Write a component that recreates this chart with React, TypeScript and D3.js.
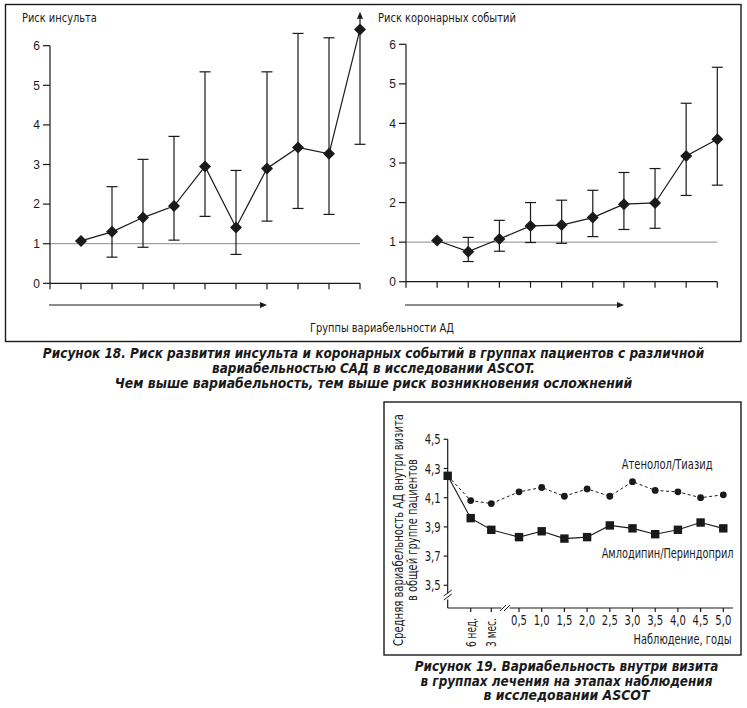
import { useEffect, useRef } from 'react';
import * as d3 from 'd3';

// Figure 18 — risk ratios by BP-variability group (1..10)
const GROUPS = [1, 2, 3, 4, 5, 6, 7, 8, 9, 10];
const STROKE_RISK = [1.07, 1.3, 1.66, 1.95, 2.95, 1.41, 2.9, 3.43, 3.27, 6.41];
const STROKE_LOW = [NaN, 0.66, 0.91, 1.09, 1.69, 0.73, 1.57, 1.89, 1.74, 3.51];
const STROKE_HIGH = [NaN, 2.44, 3.13, 3.71, 5.34, 2.85, 5.34, 6.31, 6.2, 6.78];
const CORONARY_RISK = [1.04, 0.76, 1.08, 1.41, 1.43, 1.62, 1.96, 1.99, 3.18, 3.6];
const CORONARY_LOW = [NaN, 0.51, 0.77, 0.99, 0.97, 1.14, 1.32, 1.35, 2.18, 2.44];
const CORONARY_HIGH = [NaN, 1.12, 1.55, 2.0, 2.06, 2.31, 2.76, 2.86, 4.51, 5.42];
const RISK_TICKS = [0, 1, 2, 3, 4, 5, 6];

// Figure 19 — within-visit variability by follow-up stage
const VISIT_YEARS = [0, 6 / 52, 0.25, 0.5, 1, 1.5, 2, 2.5, 3, 3.5, 4, 4.5, 5];
const VISIT_LABELS = ['', '6 нед.', '3 мес.', '0,5', '1,0', '1,5', '2,0', '2,5', '3,0', '3,5', '4,0', '4,5', '5,0'];
const ATENOLOL = [4.25, 4.08, 4.06, 4.14, 4.17, 4.11, 4.16, 4.11, 4.21, 4.15, 4.14, 4.1, 4.12];
const AMLODIPINE = [4.25, 3.96, 3.88, 3.83, 3.87, 3.82, 3.83, 3.91, 3.89, 3.85, 3.88, 3.93, 3.89];
const VAR_TICKS = [3.5, 3.7, 3.9, 4.1, 4.3, 4.5];

const W = 747;
const H = 708;
const INK = '#1a1a1a';
const SANS = '"Liberation Sans", Arial, sans-serif';
const NARROW = '"Liberation Sans Narrow", "DejaVu Sans Condensed", "Liberation Sans", sans-serif';

type G = d3.Selection<SVGGElement, unknown, null, undefined>;

type Panel = {
  axisX: number;
  right: number;
  top: number;
  bottom: number;
  title: string;
  titleLen: number;
  risk: number[];
  low: number[];
  high: number[];
  arrowEnd: number;
};

const PANELS: Panel[] = [
  {
    axisX: 50, right: 360, top: 45.7, bottom: 283.3,
    title: 'Риск инсульта', titleLen: 75,
    risk: STROKE_RISK, low: STROKE_LOW, high: STROKE_HIGH, arrowEnd: 267,
  },
  {
    axisX: 406, right: 717.3, top: 44.3, bottom: 281.7,
    title: 'Риск коронарных событий', titleLen: 138,
    risk: CORONARY_RISK, low: CORONARY_LOW, high: CORONARY_HIGH, arrowEnd: 624,
  },
];

type FitOpts = {
  x: number;
  y: number;
  len: number;
  size?: number;
  anchor?: 'start' | 'middle' | 'end';
  rotate?: number;
  bold?: boolean;
  dy?: string;
};

/** Narrow-font text squeezed horizontally to the width measured on the reference. */
function fitText(g: G, txt: string, o: FitOpts) {
  const t = g.append('text')
    .attr('text-anchor', o.anchor ?? 'start')
    .attr('font-family', NARROW)
    .attr('font-size', o.size ?? 14)
    .attr('fill', INK)
    .text(txt);
  if (o.dy) t.attr('dy', o.dy);
  if (o.bold) t.attr('font-weight', 'bold').attr('font-style', 'italic');
  const natural = (t.node() as SVGTextElement).getComputedTextLength() || o.len;
  const k = o.len / natural;
  t.attr('transform', `translate(${o.x},${o.y}) rotate(${o.rotate ?? 0}) scale(${k},1)`);
}

function arrowHead(g: G, x: number, y: number, dir: 'right' | 'up') {
  const p = dir === 'right'
    ? `M${x},${y} L${x - 7},${y - 3} L${x - 7},${y + 3} Z`
    : `M${x},${y} L${x - 3},${y + 7} L${x + 3},${y + 7} Z`;
  g.append('path').attr('d', p).attr('fill', INK);
}

export default function App() {
  const svgRef = useRef<SVGSVGElement | null>(null);

  useEffect(() => {
    const svgEl = svgRef.current;
    if (!svgEl) return;
    const svg = d3.select(svgEl);
    svg.selectAll('*').remove();
    const root = svg.append('g') as G;

    // ---- Figure 18 frame ------------------------------------------------
    root.append('rect')
      .attr('x', 5.5).attr('y', 4.5).attr('width', 735.5).attr('height', 337)
      .attr('fill', 'none').attr('stroke', INK).attr('stroke-width', 1.4);

    PANELS.forEach((p) => {
      const x = d3.scaleLinear().domain([0, 10]).range([p.axisX, p.right]);
      const y = d3.scaleLinear().domain([0, 6]).range([p.bottom, p.top]);
      const g = root.append('g') as G;

      // reference line at RR = 1
      g.append('line')
        .attr('x1', p.axisX).attr('x2', x(10))
        .attr('y1', y(1)).attr('y2', y(1))
        .attr('stroke', '#8c8c8c').attr('stroke-width', 1);

      // y axis
      g.append('line').attr('x1', p.axisX).attr('x2', p.axisX)
        .attr('y1', y(6)).attr('y2', y(0)).attr('stroke', INK).attr('stroke-width', 1.2);
      RISK_TICKS.forEach((t) => {
        g.append('line').attr('x1', p.axisX - 7).attr('x2', p.axisX)
          .attr('y1', y(t)).attr('y2', y(t)).attr('stroke', INK).attr('stroke-width', 1.2);
        g.append('text').attr('x', p.axisX - 10).attr('y', y(t)).attr('dy', '0.36em')
          .attr('text-anchor', 'end').attr('font-family', SANS).attr('font-size', 12)
          .attr('fill', INK).text(String(t));
      });

      // x axis
      g.append('line').attr('x1', p.axisX).attr('x2', x(10))
        .attr('y1', y(0)).attr('y2', y(0)).attr('stroke', INK).attr('stroke-width', 1.2);
      d3.range(0, 11).forEach((t) => {
        g.append('line').attr('x1', x(t)).attr('x2', x(t))
          .attr('y1', y(0)).attr('y2', y(0) + 6).attr('stroke', INK).attr('stroke-width', 1.2);
      });

      // error bars
      GROUPS.forEach((grp, i) => {
        const lo = p.low[i];
        const hi = p.high[i];
        if (Number.isNaN(lo)) return;
        const cx = x(grp);
        const yTop = Math.max(y(hi), 12);
        g.append('line').attr('x1', cx).attr('x2', cx).attr('y1', y(lo)).attr('y2', yTop)
          .attr('stroke', INK).attr('stroke-width', 1.2);
        g.append('line').attr('x1', cx - 5.5).attr('x2', cx + 5.5).attr('y1', y(lo)).attr('y2', y(lo))
          .attr('stroke', INK).attr('stroke-width', 1.2);
        if (hi > 6.5) {
          arrowHead(g, cx, yTop - 3, 'up');
        } else {
          g.append('line').attr('x1', cx - 5.5).attr('x2', cx + 5.5).attr('y1', y(hi)).attr('y2', y(hi))
            .attr('stroke', INK).attr('stroke-width', 1.2);
        }
      });

      // connecting line + diamonds
      const pts = GROUPS.map((grp, i) => [x(grp), y(p.risk[i])] as [number, number]);
      g.append('path').attr('d', d3.line()(pts) ?? '')
        .attr('fill', 'none').attr('stroke', INK).attr('stroke-width', 1.2);
      const diamond = d3.symbol().type(d3.symbolSquare).size(72)();
      pts.forEach(([px, py]) => {
        g.append('path').attr('d', diamond ?? '')
          .attr('transform', `translate(${px},${py}) rotate(45)`).attr('fill', INK);
      });

      // title
      fitText(g, p.title, { x: p.axisX - 28, y: 21.5, len: p.titleLen, size: 12.5 });

      // direction arrow
      g.append('line').attr('x1', p.axisX - 1).attr('x2', p.arrowEnd - 4)
        .attr('y1', 305).attr('y2', 305).attr('stroke', INK).attr('stroke-width', 1.2);
      arrowHead(g, p.arrowEnd, 305, 'right');
    });

    fitText(root, 'Группы вариабельности АД', { x: 382, y: 331.5, len: 144, size: 12.5, anchor: 'middle' });

    const cap18: [string, number, number][] = [
      ['Рисунок 18. Риск развития инсульта и коронарных событий в группах пациентов с различной', 358, 662],
      ['вариабельностью САД в исследовании ASCOT.', 373, 323],
      ['Чем выше вариабельность, тем выше риск возникновения осложнений', 387.5, 518],
    ];
    cap18.forEach(([txt, yy, len]) => {
      fitText(root, txt, { x: 373.5, y: yy, len, size: 14.5, anchor: 'middle', bold: true });
    });

    // ---- Figure 19 ------------------------------------------------------
    root.append('rect')
      .attr('x', 384).attr('y', 402).attr('width', 357).attr('height', 253)
      .attr('fill', 'none').attr('stroke', INK).attr('stroke-width', 1.4);

    const axisX = 447.7;
    const axisY = 608;
    const vx = d3.scaleLinear().domain([0, 6 / 52, 0.25, 0.5, 5]).range([axisX, 470.7, 491.3, 519, 723.3]);
    const vy = d3.scaleLinear().domain([3.5, 4.5]).range([585.3, 439.3]);
    const b = root.append('g') as G;

    // y axis with break
    b.append('line').attr('x1', axisX).attr('x2', axisX).attr('y1', vy(4.5)).attr('y2', 593.5)
      .attr('stroke', INK).attr('stroke-width', 1.2);
    b.append('line').attr('x1', axisX).attr('x2', axisX).attr('y1', 599.5).attr('y2', axisY)
      .attr('stroke', INK).attr('stroke-width', 1.2);
    [0, 4].forEach((off) => {
      b.append('line').attr('x1', axisX - 4).attr('x2', axisX + 4)
        .attr('y1', 596 + off).attr('y2', 590 + off).attr('stroke', INK).attr('stroke-width', 1);
    });
    VAR_TICKS.forEach((t) => {
      b.append('line').attr('x1', axisX - 4).attr('x2', axisX).attr('y1', vy(t)).attr('y2', vy(t))
        .attr('stroke', INK).attr('stroke-width', 1.2);
      fitText(b, String(t).replace('.', ','), { x: axisX - 7, y: vy(t), len: 16, anchor: 'end', dy: '0.36em' });
    });

    // x axis with break
    b.append('line').attr('x1', axisX).attr('x2', 501.5).attr('y1', axisY).attr('y2', axisY)
      .attr('stroke', INK).attr('stroke-width', 1.2);
    b.append('line').attr('x1', 509.5).attr('x2', 733).attr('y1', axisY).attr('y2', axisY)
      .attr('stroke', INK).attr('stroke-width', 1.2);
    [0, 4].forEach((off) => {
      b.append('line').attr('x1', 500 + off).attr('x2', 506 + off)
        .attr('y1', 611).attr('y2', 605).attr('stroke', INK).attr('stroke-width', 1);
    });
    VISIT_YEARS.forEach((yr, i) => {
      if (i === 0) return;
      const tx = vx(yr);
      b.append('line').attr('x1', tx).attr('x2', tx).attr('y1', axisY).attr('y2', axisY + 4)
        .attr('stroke', INK).attr('stroke-width', 1.2);
      if (i <= 2) {
        fitText(b, VISIT_LABELS[i], { x: tx, y: 618, len: 29, anchor: 'end', rotate: -90, dy: '0.36em' });
      } else {
        fitText(b, VISIT_LABELS[i], { x: tx, y: 624.5, len: 16, anchor: 'middle' });
      }
    });
    fitText(b, 'Наблюдение, годы', { x: 731.5, y: 643.5, len: 98, anchor: 'end' });

    // y label (two rotated lines)
    const yLab: [string, number, number][] = [
      ['Средняя вариабельность АД внутри визита', 397.7, 232],
      ['в общей группе пациентов', 411.7, 142],
    ];
    yLab.forEach(([txt, xx, len]) => {
      fitText(b, txt, { x: xx, y: 530, len, anchor: 'middle', rotate: -90, dy: '0.36em' });
    });

    // series
    const aPts = VISIT_YEARS.map((yr, i) => [vx(yr), vy(ATENOLOL[i])] as [number, number]);
    const mPts = VISIT_YEARS.map((yr, i) => [vx(yr), vy(AMLODIPINE[i])] as [number, number]);
    b.append('path').attr('d', d3.line()(aPts) ?? '').attr('fill', 'none')
      .attr('stroke', INK).attr('stroke-width', 1).attr('stroke-dasharray', '3 2.5');
    b.append('path').attr('d', d3.line()(mPts) ?? '').attr('fill', 'none')
      .attr('stroke', INK).attr('stroke-width', 1.1);
    aPts.slice(1).forEach(([px, py]) => {
      b.append('circle').attr('cx', px).attr('cy', py).attr('r', 3.4).attr('fill', INK);
    });
    mPts.forEach(([px, py]) => {
      b.append('rect').attr('x', px - 4.2).attr('y', py - 4.2).attr('width', 8.4).attr('height', 8.4)
        .attr('fill', INK);
    });

    fitText(b, 'Атенолол/Тиазид', { x: 621.7, y: 469, len: 91 });
    fitText(b, 'Амлодипин/Периндоприл', { x: 601.7, y: 557.5, len: 132 });

    const cap19: [string, number, number][] = [
      ['Рисунок 19. Вариабельность внутри визита', 670.5, 304],
      ['в группах лечения на этапах наблюдения', 685.5, 292],
      ['в исследовании ASCOT', 700, 166],
    ];
    cap19.forEach(([txt, yy, len]) => {
      fitText(root, txt, { x: 566.5, y: yy, len, size: 14.5, anchor: 'middle', bold: true });
    });
  }, []);

  return (
    <div style={{ position: 'absolute', left: 0, top: 0 }}>
      <svg
        ref={svgRef}
        width={W}
        height={H}
        viewBox={`0 0 ${W} ${H}`}
        style={{ display: 'block', background: '#ffffff' }}
        role="img"
        aria-label="Риск инсульта и коронарных событий по группам вариабельности АД; вариабельность внутри визита в исследовании ASCOT"
      />
    </div>
  );
}
